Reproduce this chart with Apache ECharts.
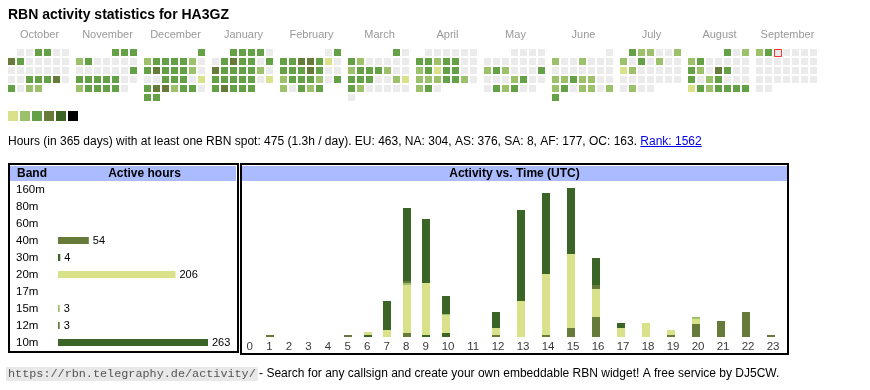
<!DOCTYPE html>
<html><head><meta charset="utf-8">
<script src="https://cdn.jsdelivr.net/npm/echarts@6/dist/echarts.min.js"></script>
<style>html,body{margin:0;padding:0;background:#fff}#c{width:870px;height:390px}</style>
</head><body><div id="c"></div>
<script>
// ---------- DATA ----------
const callsign = 'HA3GZ';
const monthNames = ['October','November','December','January','February','March','April','May','June','July','August','September'];
const monthKeys = ['2024-10','2024-11','2024-12','2025-01','2025-02','2025-03','2025-04','2025-05','2025-06','2025-07','2025-08','2025-09'];
// daily activity level (0 = none, 1..6 = legend steps)
const levelsOct = [0,0,3,3,0,0, 4,3,0,0,0,0,0, 0,0,0,0,0,0,0, 0,0,3,3,3,4,0, 3,0,2,2];
const levelsNov = [3,3,3, 2,3,0,0,0,0,0, 0,0,0,0,0,0,3, 3,3,3,3,3,0,0, 2,3,3,3,3,0];
const levelsDec = [3, 2,3,3,3,3,2,0, 3,4,3,3,3,2,0, 0,0,3,3,3,0,1, 3,4,4,2,3,3,0, 3,3];
const levelsJan = [3,3,3,3,0, 0,3,4,3,3,0,3, 4,3,3,3,3,2,0, 3,3,3,3,3,0,1, 3,4,3,3,3];
const levelsFeb = [0,3, 3,3,4,4,3,1,0, 3,3,3,4,3,0,0, 2,3,3,3,2,0,3, 2,0,3,2,3];
const levelsMar = [3,0, 3,2,0,0,0,0,0, 2,3,3,3,2,0,0, 3,3,3,0,0,2,1, 3,2,0,0,0,0,0, 0];
const levelsApr = [0,0,0,0,0,0, 3,3,2,3,3,0,0, 2,3,1,3,3,0,0, 2,2,2,3,3,2,0, 2,3,0];
const levelsMay = [0,0,0,0, 0,0,0,0,0,0,0, 2,3,2,0,0,0,3, 0,0,0,2,3,0,0, 0,3,2,3,0,0];
const levelsJun = [0, 2,0,0,2,0,0,0, 0,0,0,0,0,0,0, 2,2,3,2,2,0,0, 2,3,0,2,2,0,2, 3];
const levelsJul = [3,2,2,0,0,2, 2,0,3,0,2,0,0, 1,2,0,0,0,0,0, 0,0,0,0,0,0,0, 0,2,0,0];
const levelsAug = [3,0,2, 2,3,0,0,0,0,0, 3,2,0,4,3,0,0, 3,0,2,3,0,0,0, 1,3,2,3,3,3,3];
const levelsSep = [2,3,0,0,0,0,0, 0,0,0,0,0,0,0, 0,0,0,0,0,0,0, 0,0,0,0,0,0,0, 0,0];
const dayLevels = [levelsOct,levelsNov,levelsDec,levelsJan,levelsFeb,levelsMar,levelsApr,levelsMay,levelsJun,levelsJul,levelsAug,levelsSep];
const levelColors = ['#d9e28a','#9dc16a','#64a046','#667a3a','#3b6427','#000000'];
const today = '2025-09-03';

const totalHours = 475, perDay = '1.3';
const continents = ['EU','NA','AS','SA','AF','OC'];
const continentHours = [463,304,376,8,177,163];
const rank = 1562;

const bands = ['160m','80m','60m','40m','30m','20m','17m','15m','12m','10m'];
const bandHours = [0,0,0,54,4,206,0,3,3,263];
const bandColors = ['#000000','#64a046','#9dc16a','#667a3a','#3b6427','#d9e28a','#64a046','#9dc16a','#667a3a','#3b6427'];

const hourLabels = ['0','1','2','3','4','5','6','7','8','9','10','11','12','13','14','15','16','17','18','19','20','21','22','23'];
const hours40m = [0,1,0,0,0,1,0,0,2,0,0,0,1,0,1,5,11,0,0,1,7,9,14,1];
const hours30m = [0,0,0,0,0,0,1,0,0,1,2,0,0,0,0,0,0,0,0,0,0,0,0,0];
const hours20m = [0,0,0,0,0,0,2,4,27,29,10,0,4,20,34,41,16,5,8,3,3,0,0,0];
const hours15m = [0,0,0,0,0,0,0,0,1,0,1,0,0,0,0,0,0,0,0,0,1,0,0,0];
const hours12m = [0,0,0,0,0,0,0,0,1,0,0,0,0,0,0,0,2,0,0,0,0,0,0,0];
const hours10m = [0,0,0,0,0,0,0,16,41,36,10,0,9,51,45,37,15,3,0,0,0,0,0,0];
const hourlyByBand = [null,null,null,hours40m,hours30m,hours20m,null,hours15m,hours12m,hours10m];

// ---------- LAYOUT ----------
const FONT = '"Liberation Sans", Arial, Helvetica, sans-serif';
const mctx = document.createElement('canvas').getContext('2d');
function tw(t, f){ mctx.font = f; return mctx.measureText(t).width; }

const chart = echarts.init(document.getElementById('c'), null, {renderer:'canvas'});

const calendars = monthKeys.map((m,i)=>({
  orient:'vertical', range:m, left:7+68*i, top:48, cellSize:[9,9],
  splitLine:{show:false},
  itemStyle:{color:'#ebebeb', borderColor:'#ffffff', borderWidth:2},
  dayLabel:{show:false, firstDay:1}, monthLabel:{show:false}, yearLabel:{show:false}
}));

const series = [];
monthKeys.forEach((m,i)=>{
  series.push({
    type:'heatmap', coordinateSystem:'calendar', calendarIndex:i, silent:true,
    itemStyle:{borderWidth:0},
    emphasis:{disabled:true},
    data: dayLevels[i].map((v,d)=>[m+'-'+String(d+1).padStart(2,'0'), v]).filter(p=>p[1]>0)
  });
});
const heatIdx = series.map((s,i)=>i);
series.push({
  type:'scatter', coordinateSystem:'calendar', calendarIndex:11, silent:true, z:5,
  data:[[today,0]], symbol:'rect', symbolSize:7, symbolOffset:[0.5,0.5],
  itemStyle:{color:'#ebebeb', borderColor:'#ff0000', borderWidth:1}
});

// band table bars
series.push({
  type:'bar', xAxisIndex:0, yAxisIndex:0, barWidth:7, silent:true,
  data: bandHours.map((v,i)=>({value: v>0 ? v : null, itemStyle:{color:bandColors[i]}})),
  label:{show:true, position:'right', distance:4, fontSize:11, fontFamily:FONT, color:'#000'}
});

// hourly columns (auto-width table columns from label length)
const colW = hourLabels.map(s => 14.12 + 5.44*s.length);
let acc = 0;
const colLeft = colW.map(w => { const l = acc; acc += w; return l; });
const totalW = acc;
const barX = colLeft.map(l => l + 10.4);
const labelX = colLeft.map((l,i) => l + colW[i]/2);
const hourTotals = hourLabels.map((h,k)=>hourlyByBand.reduce((s,a)=>s+(a?a[k]:0),0));
const maxTotal = Math.max(...hourTotals);

// stacked segments (bottom band first)
const stackBase = hourLabels.map(()=>0);
hourlyByBand.forEach((arr,b)=>{
  if(!arr) return;
  const segs = [];
  arr.forEach((v,k)=>{ if(v>0){ segs.push([barX[k], stackBase[k], stackBase[k]+v]); stackBase[k]+=v; } });
  const color = bandColors[b];
  series.push({
    type:'custom', name:bands[b], xAxisIndex:1, yAxisIndex:1, silent:true,
    encode:{x:0, y:[1,2]},
    data: segs,
    renderItem:(params, api)=>{
      const p0 = api.coord([api.value(0), api.value(1)]);
      const p1 = api.coord([api.value(0), api.value(2)]);
      const cx = Math.round(p0[0]);
      const top = Math.round(p1[1]), bot = Math.round(p0[1]);
      return {type:'rect', shape:{x:cx-4, y:top, width:8, height:Math.max(bot-top,1)}, style:{fill:color}};
    }
  });
});
series.push({
  type:'scatter', xAxisIndex:1, yAxisIndex:1, silent:true, symbolSize:1,
  itemStyle:{color:'rgba(0,0,0,0)'},
  data: labelX.map(x=>[x,0]),
  label:{show:true, position:'bottom', distance:3, fontSize:11.5, fontFamily:FONT, color:'#000',
         formatter: p => hourLabels[p.dataIndex]}
});

// ---------- TEXT / FRAMES ----------
const g = [];
g.push({type:'text', x:8, y:15.5, style:{text:'RBN activity statistics for '+callsign, font:'bold 14px '+FONT, fill:'#000', verticalAlign:'middle'}});
monthNames.forEach((n,i)=>g.push({type:'text', x:8+68*i+31.5, y:35, style:{text:n, font:'11px '+FONT, fill:'#999', align:'center', verticalAlign:'middle'}}));

const infoFont = '12px ' + FONT;
const infoText = 'Hours (in 365 days) with at least one RBN spot: '+totalHours+' ('+perDay+'h / day). '
  + continents.map((c,i)=>c+': '+continentHours[i]).join(', ') + '. ';
const rankText = 'Rank: ' + rank;
const w1 = tw(infoText, infoFont), w2 = tw(rankText, infoFont);
g.push({type:'text', x:8, y:142, style:{text:infoText, font:infoFont, fill:'#000', verticalAlign:'middle'}});
g.push({type:'text', x:8+w1, y:142, style:{text:rankText, font:infoFont, fill:'#0000ee', verticalAlign:'middle'}});
g.push({type:'line', shape:{x1:8+w1, y1:146.5, x2:8+w1+w2, y2:146.5}, style:{stroke:'#0000ee', lineWidth:1}});

g.push({type:'rect', z:-1, shape:{x:10, y:166, width:226, height:15}, style:{fill:'#aabbff'}});
g.push({type:'rect', z:-1, shape:{x:242, y:166, width:545, height:15}, style:{fill:'#aabbff'}});
g.push({type:'rect', shape:{x:9, y:164, width:229, height:188}, style:{fill:null, stroke:'#000', lineWidth:2}});
g.push({type:'rect', shape:{x:241, y:164, width:547, height:190}, style:{fill:null, stroke:'#000', lineWidth:2}});
const hFont = 'bold 12px ' + FONT;
g.push({type:'text', x:17, y:173.5, style:{text:'Band', font:hFont, fill:'#000', verticalAlign:'middle'}});
g.push({type:'text', x:144.5, y:173.5, style:{text:'Active hours', font:hFont, fill:'#000', align:'center', verticalAlign:'middle'}});
g.push({type:'text', x:514.5, y:173.5, style:{text:'Activity vs. Time (UTC)', font:hFont, fill:'#000', align:'center', verticalAlign:'middle'}});

const urlText = 'https://rbn.telegraphy.de/activity/';
const urlFont = '11.8px "Liberation Mono", "DejaVu Sans Mono", monospace';
const footText = ' - Search for any callsign and create your own embeddable RBN widget! A free service by DJ5CW.';
const wu = tw(urlText, urlFont);
g.push({type:'text', x:6, y:374, style:{text:urlText, font:urlFont, fill:'#555', backgroundColor:'#e8e8e8', padding:[1,2], verticalAlign:'middle'}});
g.push({type:'text', x:6+wu+2, y:374, style:{text:footText, font:'12px '+FONT, fill:'#000', verticalAlign:'middle'}});

chart.setOption({
  animation:false,
  calendar: calendars,
  visualMap:{
    type:'piecewise', seriesIndex:heatIdx, orient:'horizontal', left:8, top:111, padding:0,
    itemWidth:10, itemHeight:10, itemGap:2, itemSymbol:'rect', showLabel:false, selectedMode:false,
    pieces: levelColors.map((c,i)=>({value:i+1, color:c}))
  },
  grid:[
    {left:58, top:181, width:150, height:170},
    {left:240, top:188, width:totalW, height:149}
  ],
  xAxis:[
    {gridIndex:0, type:'value', min:0, max:Math.max(...bandHours), show:false},
    {gridIndex:1, type:'value', min:0, max:totalW, show:false}
  ],
  yAxis:[
    {gridIndex:0, type:'category', data:bands, inverse:true,
     axisLine:{show:false}, axisTick:{show:false}, splitLine:{show:false},
     axisLabel:{align:'left', margin:42, fontSize:11.5, fontFamily:FONT, color:'#000'}},
    {gridIndex:1, type:'value', min:0, max:maxTotal, show:false}
  ],
  graphic: g,
  series: series
});
</script></body></html>
